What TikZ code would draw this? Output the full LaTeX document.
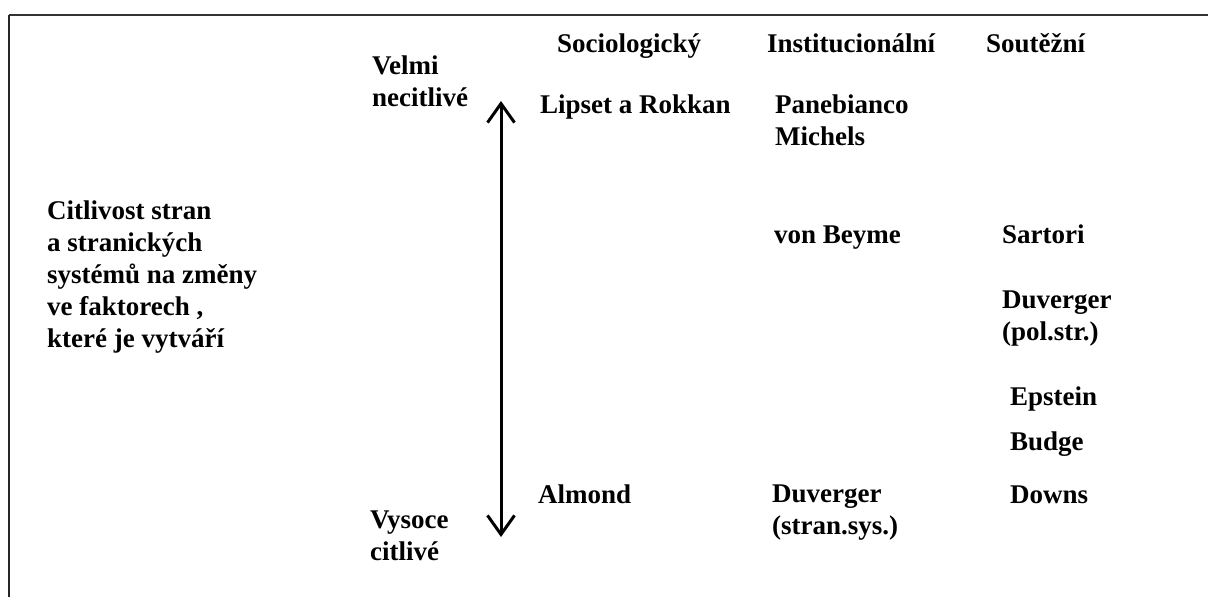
\documentclass[tikz,border=0pt]{standalone}
\usepackage{fontspec}
\setmainfont{Liberation Serif}
\usetikzlibrary{arrows.meta}

\begin{document}
\begin{tikzpicture}[x=1pt, y=-1pt, lbl/.style = {anchor=base west, inner sep=0, align=left, font=\bfseries\fontsize{27}{32}\selectfont}]
\useasboundingbox (0,0) rectangle (1208,597);
\draw[black!80, line width=1.3pt] (1208,15) -- (9,15);
\draw[black!85, line width=2pt] (9,15) -- (9,597);

% multi-line labels are placed by the baseline of their last line
\node[lbl] (velmi) at (372, 106) { Velmi\\necitlivé };
\node[lbl] (vysoce) at (370, 560) { Vysoce\\citlivé };
\node[lbl] (citlivost) at (47, 347) { Citlivost stran\\a stranických\\systémů na změny\\ve faktorech ,\\které je vytváří };

\node[lbl] (sociol) at (557, 52) { Sociologický };
\node[lbl] (instit) at (767, 52) { Institucionální };
\node[lbl] (soutez) at (986, 52) { Soutěžní };

\node[lbl] (lipset) at (540, 113) { Lipset a Rokkan };
\node[lbl] (almond) at (538, 503) { Almond };

\node[lbl] (panebianco) at (775, 145) { Panebianco\\Michels };
\node[lbl] (beyme) at (774, 243) { von Beyme };
\node[lbl] (duverger_ss) at (772, 534) { Duverger\\(stran.sys.) };

\node[lbl] (sartori) at (1002, 243) { Sartori };
\node[lbl] (duverger_ps) at (1002, 340) { Duverger\\(pol.str.) };
\node[lbl] (epstein) at (1010, 405) { Epstein };
\node[lbl] (budge) at (1010, 450) { Budge };
\node[lbl] (downs) at (1010, 503) { Downs };

\coordinate (necitl) at (501, 101);
\coordinate (citl) at (501, 537);

\begin{scope}[line width=3pt, {Straight Barb[length=19pt, width=27pt]}-{Straight Barb[length=19pt, width=27pt]}]
\draw (necitl) -- (citl);
\end{scope}
\end{tikzpicture}
\end{document}
